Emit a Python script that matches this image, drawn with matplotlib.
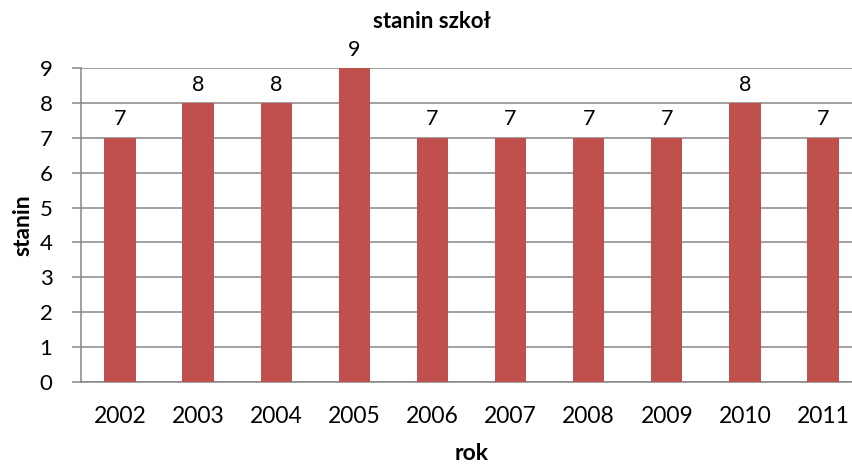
import matplotlib
matplotlib.use("Agg")
import matplotlib.pyplot as plt

years = ["2002", "2003", "2004", "2005", "2006", "2007", "2008", "2009", "2010", "2011"]
stanin = [7, 8, 8, 9, 7, 7, 7, 7, 8, 7]

plt.rcParams['font.family'] = ['Lato', 'DejaVu Sans']

W, H = 853, 468
fig = plt.figure(figsize=(W / 100, H / 100), dpi=100)
step = (823 - 120) / 9
left = 120 - step / 2
ax = fig.add_axes([left / W, 1 - 382 / H, 10 * step / W, (382 - 68) / H])

x = range(len(years))
bars = ax.bar(x, stanin, width=0.4, color="#C0504D", zorder=3)
for xi, v in zip(x, stanin):
    ax.annotate(str(v), (xi, v), xytext=(0, 6), textcoords="offset points",
                ha="center", va="bottom", fontsize=15.5, color="#000000")

ax.set_xlim(-0.5, 9.5)
ax.set_ylim(0, 9)
ax.set_yticks(range(0, 10))
ax.set_xticks(list(x))
ax.set_xticklabels(years)
ax.yaxis.grid(True, color="#868686", linewidth=1.1, zorder=0)
ax.set_axisbelow(True)
for s in ["top", "right"]:
    ax.spines[s].set_visible(False)
for s in ["left", "bottom"]:
    ax.spines[s].set_color("#868686")
    ax.spines[s].set_linewidth(1.1)
ax.tick_params(axis="y", length=6.5, width=1.1, color="#868686", labelsize=16, pad=14)
ax.tick_params(axis="x", length=0, labelsize=16.5, pad=17)

ax.set_xlabel("rok", fontsize=16.5, fontweight="bold", labelpad=12)
ax.set_ylabel("stanin", fontsize=16.5, fontweight="bold", labelpad=4)
fig.text(432 / W, 1 - 21 / H, "stanin szkoł", ha="center", va="center",
         fontsize=16, fontweight="bold")

fig.savefig("out.png", dpi=100, facecolor="white")
